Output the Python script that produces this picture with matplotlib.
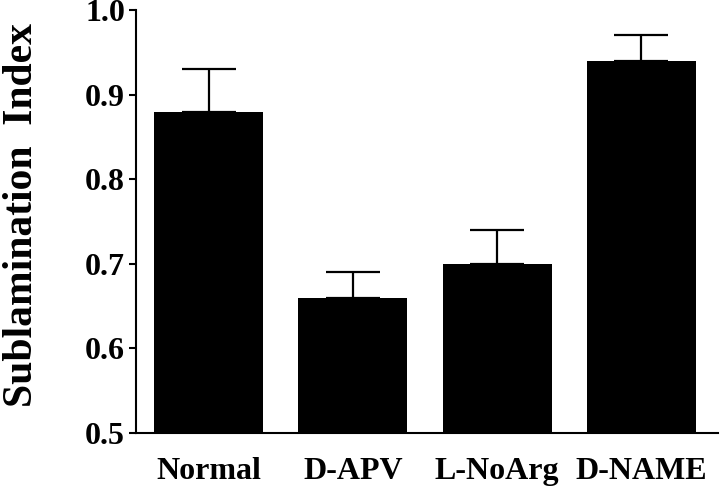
import matplotlib
matplotlib.use('Agg')
import matplotlib.pyplot as plt

# data
groups = ['Normal', 'D-APV', 'L-NoArg', 'D-NAME']
means = [0.88, 0.66, 0.70, 0.94]
sem = [0.05, 0.03, 0.04, 0.03]
yticks = [0.5, 0.6, 0.7, 0.8, 0.9, 1.0]

plt.rcParams['font.family'] = ['Liberation Serif', 'DejaVu Serif']
plt.rcParams['font.weight'] = 'bold'

fig = plt.figure(figsize=(7.2, 4.9), dpi=100)
ax = fig.add_axes([0.189, 0.1163, 0.808, 0.8633])

pos = list(range(len(groups)))
ax.bar(pos, means, width=0.755, color='black', zorder=2)
ax.errorbar(pos, means, yerr=[[0] * len(sem), sem], fmt='none',
            ecolor='black', elinewidth=1.6, capsize=19.5, capthick=1.6,
            zorder=1)

ax.set_ylim(0.5, 1.0)
ax.set_xlim(-0.502, 3.53)
ax.set_yticks(yticks)
ax.set_yticklabels(['%.1f' % t for t in yticks], fontsize=23, fontweight='bold')
ax.set_xticks(pos)
ax.set_xticklabels(groups, fontsize=23, fontweight='bold')

ax.spines['top'].set_visible(False)
ax.spines['right'].set_visible(False)
ax.spines['left'].set_linewidth(1.5)
ax.spines['bottom'].set_linewidth(1.5)
ax.tick_params(axis='y', direction='out', length=5, width=1.5, pad=3)
ax.tick_params(axis='x', length=0, pad=17)

ax.set_ylabel('Sublamination  Index', fontsize=30, fontweight='bold')
ax.yaxis.set_label_coords(-0.163, 0.515)

fig.savefig('out.png', dpi=100)
